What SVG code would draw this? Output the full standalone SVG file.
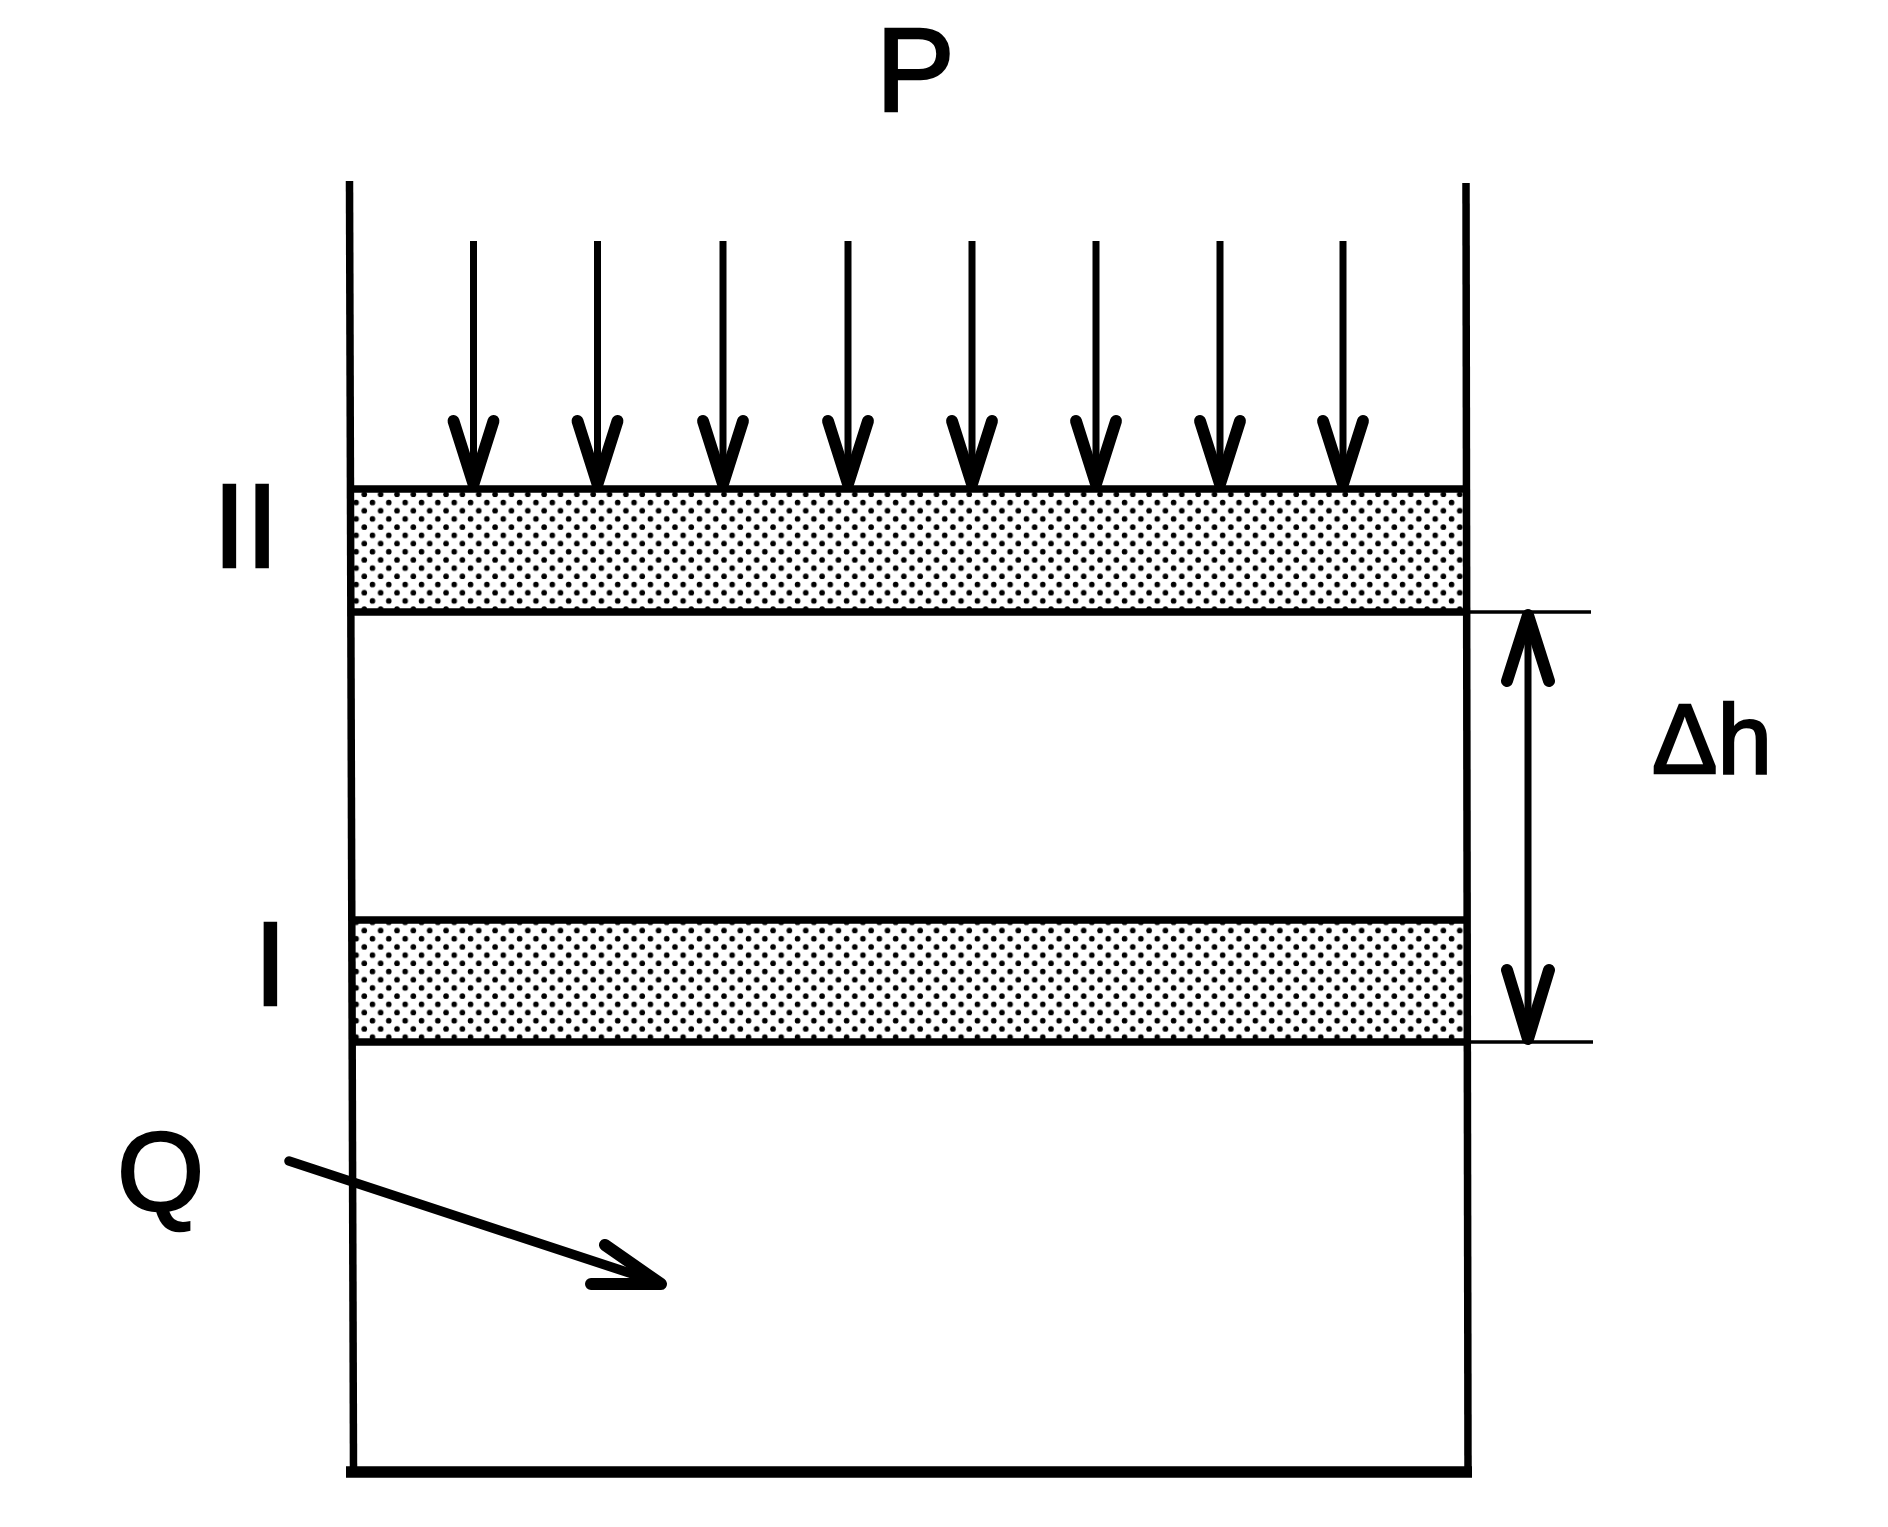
<svg xmlns="http://www.w3.org/2000/svg" width="1888" height="1527" viewBox="0 0 1888 1527">
<style>
.l{fill:none;stroke:#000;stroke-linecap:round;stroke-linejoin:round}
.w{stroke-width:7.5;stroke-linecap:butt}
.h{stroke-width:7.5;stroke-linecap:butt}
.a{stroke-width:7;stroke-linecap:butt}
.b{stroke-width:12}
.e{stroke-width:3.5;stroke-linecap:butt}
.q{stroke-width:9.5}
.f{stroke-width:11.5;stroke-linecap:butt}
text{font-family:"Liberation Sans",Arial,sans-serif;fill:#000;stroke:#000;stroke-width:2.5}
</style>
<defs>
<pattern id="dots2" width="16.35" height="16.4" patternUnits="userSpaceOnUse" x="360.3" y="490.3">
<circle cx="4" cy="4" r="2.8" fill="#000"/><circle cx="12.17" cy="12.2" r="2.8" fill="#000"/>
</pattern>
<pattern id="dots1" width="16.35" height="16.4" patternUnits="userSpaceOnUse" x="360.3" y="926.5">
<circle cx="4" cy="4" r="2.8" fill="#000"/><circle cx="12.17" cy="12.2" r="2.8" fill="#000"/>
</pattern>
<g id="arrowDown">
<path class="l a" d="M0 0V240"/>
<path class="l b" d="M-20 180L0 243L20 180"/>
</g>
</defs>
<rect width="1888" height="1527" fill="#fff"/>
<g id="layer-II"><rect x="351" y="489" width="1115" height="123" fill="url(#dots2)"/><path class="l h" d="M350 489H1466M350 612H1466"/></g>
<g id="layer-I"><rect x="352" y="920" width="1115" height="122" fill="url(#dots1)"/><path class="l h" d="M352 920H1467M352 1042H1467"/></g>
<g id="vessel">
<path class="l w" d="M349.500 181L353.500 1472"/>
<path class="l w" d="M1466 183L1468 1472"/>
<path class="l f" d="M346 1472H1472"/>
</g>
<g id="connectors">
<use href="#arrowDown" x="473.500" y="241"/>
<use href="#arrowDown" x="597.500" y="241"/>
<use href="#arrowDown" x="723" y="241"/>
<use href="#arrowDown" x="848" y="241"/>
<use href="#arrowDown" x="972" y="241"/>
<use href="#arrowDown" x="1096" y="241"/>
<use href="#arrowDown" x="1220" y="241"/>
<use href="#arrowDown" x="1343" y="241"/>
<path class="l e" d="M1469 612H1591M1469 1042H1593"/>
<path class="l a" d="M1528 618V1038"/>
<path class="l b" d="M1507 681L1528 615L1549 681M1507 970L1528 1039L1549 970"/>
<path class="l q" d="M289 1161L660 1283"/>
<path class="l b" d="M605 1245L661 1284H591"/>
</g>
<g id="label-P"><text x="876" y="111" font-size="118">P</text></g>
<g id="label-II"><text x="213" y="567" font-size="118">II</text></g>
<g id="label-I"><text x="254" y="1005" font-size="118">I</text></g>
<g id="label-Q"><text x="117" y="1210" font-size="112">Q</text></g>
<g id="label-dh"><text x="1652" y="773" font-size="98">Δh</text></g>
</svg>
